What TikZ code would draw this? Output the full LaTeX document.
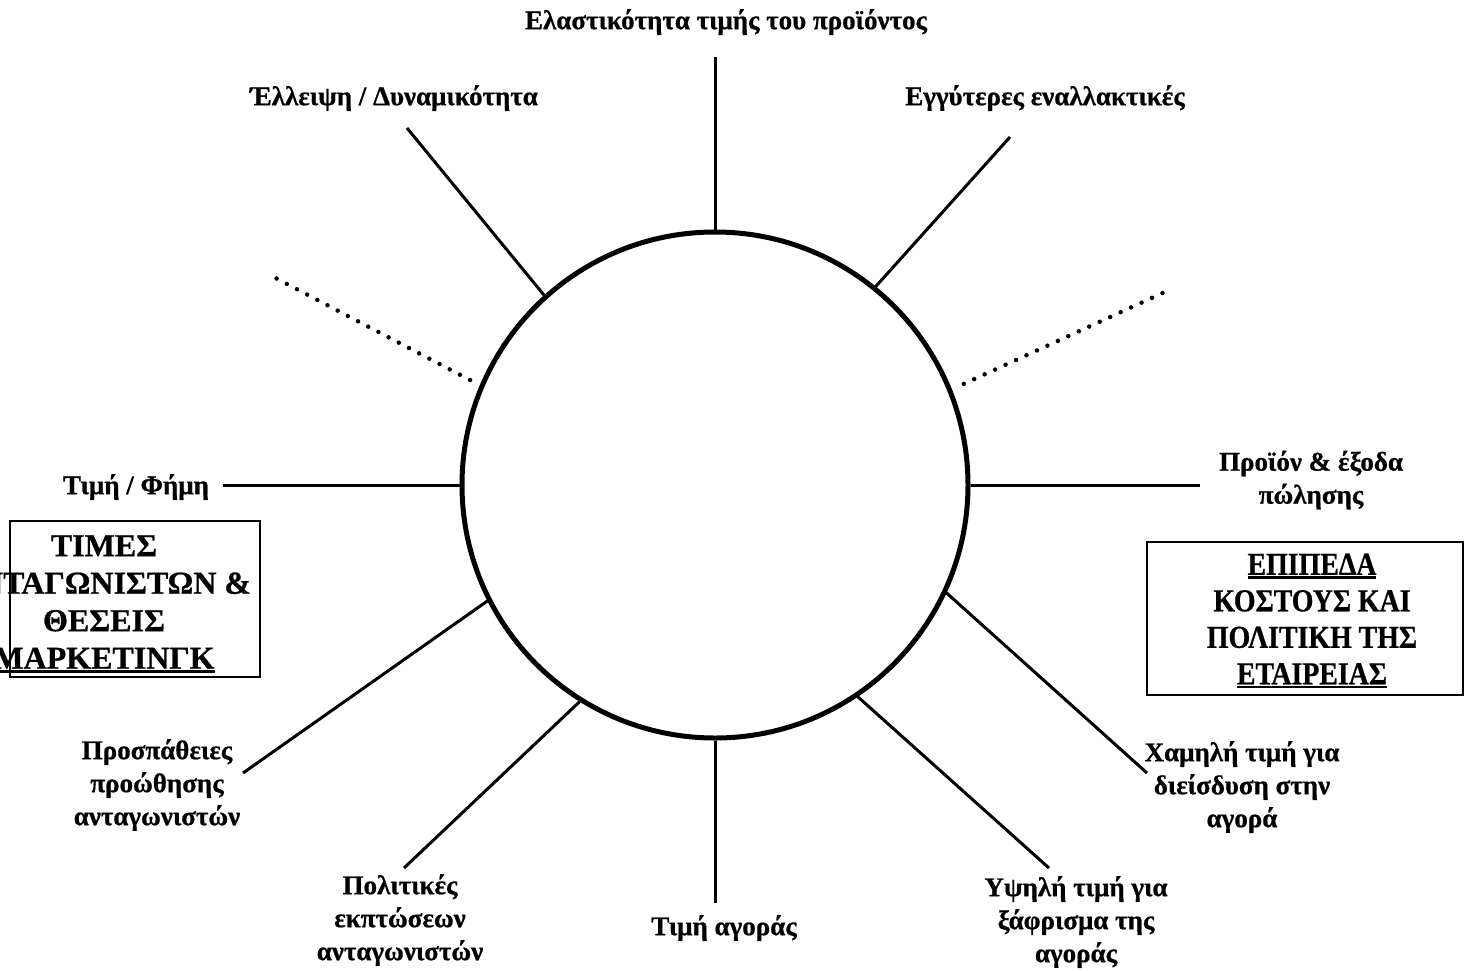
\documentclass[tikz,border=0pt]{standalone}
\usepackage{fontspec}
\setmainfont{Liberation Serif}[FakeBold=0.7]
\newfontfamily\rboxfont{Liberation Serif}[FakeStretch=0.87,FakeBold=0.7]
\newcommand\myul[1]{\setbox0\hbox{#1}\rlap{\rule[-4pt]{\wd0}{2.5pt}}\box0}
\begin{document}
\begin{tikzpicture}[x=1pt,y=-1pt,
  lbl/.style={font=\bfseries\fontsize{27}{33}\selectfont, align=center, inner sep=0pt},
  spoke/.style={line width=3pt},
  dotline/.style={line width=4.5pt, line cap=round, dash pattern=on 0pt off 11.5pt},
  boxtext/.style={font=\bfseries\fontsize{32}{37.5}\selectfont, align=center, inner sep=0pt},
  boxtextr/.style={font=\rboxfont\bfseries\fontsize{32}{36.5}\selectfont, align=center, inner sep=0pt},
  frame/.style={draw, line width=2pt, inner sep=0pt}]
\useasboundingbox (0,0) rectangle (1473,970);
\fill[white] (0,0) rectangle (1473,970);
\node[draw, circle, line width=5pt, minimum size=506pt, inner sep=0pt] (c) at (715,485) {};
% labels
\node[lbl] (ltop) at (726,22) {Ελαστικότητα τιμής του προϊόντος};
\node[lbl] (ltl) at (394,98) {Έλλειψη / Δυναμικότητα};
\node[lbl] (ltr) at (1045,98) {Εγγύτερες εναλλακτικές};
\node[lbl] (lleft) at (136,487) {Τιμή / Φήμη};
\node[lbl] (lright) at (1311,480) {Προϊόν \& έξοδα\\πώλησης};
\node[lbl] (lbl1) at (157,785) {Προσπάθειες\\προώθησης\\ανταγωνιστών};
\node[lbl] (lbl2) at (400,920) {Πολιτικές\\εκπτώσεων\\ανταγωνιστών};
\node[lbl] (lbot) at (724,928) {Τιμή αγοράς};
\node[lbl] (lbr2) at (1076,922) {Υψηλή τιμή για\\ξάφρισμα της\\αγοράς};
\node[lbl] (lbr1) at (1242,787) {Χαμηλή τιμή για\\διείσδυση στην\\αγορά};
% spoke ends
\coordinate (etop) at (715,57);
\coordinate (etl) at (407,128);
\coordinate (etr) at (1010,137);
\coordinate (edl) at (268,274);
\coordinate (edr) at (1167,291);
\coordinate (eright) at (1200,485);
\coordinate (ebr1) at (1147,773);
\coordinate (ebr2) at (1049,868);
\coordinate (ebot) at (715,903);
\coordinate (ebl2) at (404,868);
\coordinate (ebl1) at (243,773);
\coordinate (eleft) at (223,485);
% spokes
\draw[spoke] (c.90) -- (etop);
\draw[spoke] (c.132) -- (etl);
\draw[spoke] (c.51) -- (etr);
\draw[dotline, shorten <=11pt] (c.157) -- (edl);
\draw[dotline, shorten <=13pt] (c.22.6) -- (edr);
\draw[spoke] (c.0) -- (eright);
\draw[spoke] (c.-25.8) -- (ebr1);
\draw[spoke] (c.-56.9) -- (ebr2);
\draw[spoke] (c.-90) -- (ebot);
\draw[spoke] (c.-122.7) -- (ebl2);
\draw[spoke] (c.-153.8) -- (ebl1);
\draw[spoke] (c.180) -- (eleft);
% boxes
\node[frame, minimum width=250pt, minimum height=156pt] (boxl) at (135,599) {};
\node[frame, minimum width=316pt, minimum height=153pt] (boxr) at (1305,618.5) {};
\begin{scope}
\clip (0,0) rectangle (1473,970);
\node[boxtext] (tl) at (104,604) {ΤΙΜΕΣ\\ΑΝΤΑΓΩΝΙΣΤΩΝ \&\\ΘΕΣΕΙΣ\\\myul{ΜΑΡΚΕΤΙΝΓΚ}};
\end{scope}
\node[boxtextr] (tr) at (1312,621) {\myul{ΕΠΙΠΕΔΑ}\\ΚΟΣΤΟΥΣ ΚΑΙ\\ΠΟΛΙΤΙΚΗ ΤΗΣ\\\myul{ΕΤΑΙΡΕΙΑΣ}};
\end{tikzpicture}
\end{document}
